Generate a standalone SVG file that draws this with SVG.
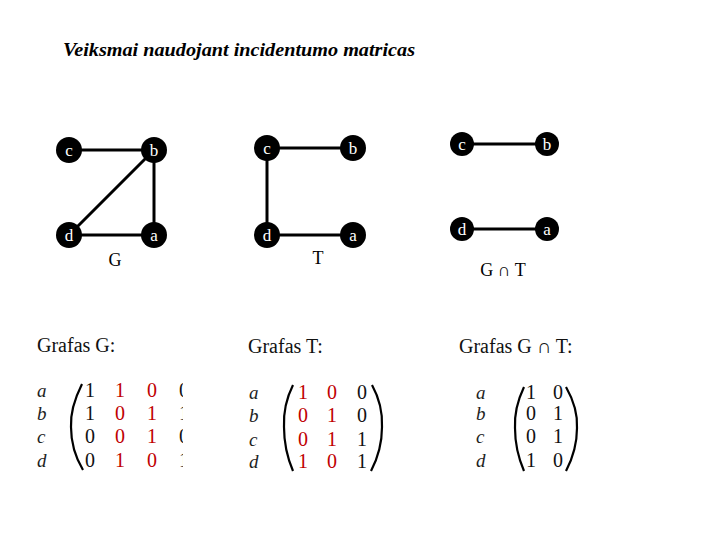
<svg xmlns="http://www.w3.org/2000/svg" width="720" height="540" viewBox="0 0 720 540">
<style>
.title{font-family:"Liberation Serif",serif;font-weight:bold;font-style:italic;font-size:18px;fill:#000}
.node circle{fill:#000}
.node text{font-family:"Liberation Serif",serif;font-size:17px;fill:#fff;text-anchor:middle}
.edge{stroke:#000;stroke-width:3;fill:none}
.glabel{font-family:"Liberation Serif",serif;font-size:18px;fill:#000;text-anchor:middle}
.head{font-family:"Liberation Serif",serif;font-size:20px;fill:#111}
.row{font-family:"Liberation Serif",serif;font-style:italic;font-size:19px;fill:#222}
.num{font-family:"Liberation Serif",serif;font-size:20px;text-anchor:middle;fill:#111}
.red{fill:#c00000}
.paren{fill:none;stroke:#000;stroke-width:2.2}
</style>
<defs>
<clipPath id="clipG"><rect x="0" y="370" width="183" height="110"/></clipPath>
</defs>
<text class="title" x="63" y="56" textLength="352" lengthAdjust="spacingAndGlyphs">Veiksmai naudojant incidentumo matricas</text>

<g id="connectors">
<line class="edge" x1="69" y1="150" x2="154" y2="150"/>
<line class="edge" x1="154" y1="150" x2="154" y2="235"/>
<line class="edge" x1="154" y1="150" x2="69" y2="235"/>
<line class="edge" x1="69" y1="235" x2="154" y2="235"/>
<line class="edge" x1="267" y1="148" x2="353" y2="148"/>
<line class="edge" x1="267" y1="148" x2="267" y2="235"/>
<line class="edge" x1="267" y1="235" x2="353" y2="235"/>
<line class="edge" x1="462" y1="144" x2="547" y2="144"/>
<line class="edge" x1="462" y1="229" x2="547" y2="229"/>
</g>

<g id="G-c" class="node"><circle cx="69" cy="150" r="13"/><text x="69" y="156">c</text></g>
<g id="G-b" class="node"><circle cx="154" cy="150" r="13"/><text x="154" y="156">b</text></g>
<g id="G-d" class="node"><circle cx="69" cy="235" r="13"/><text x="69" y="241">d</text></g>
<g id="G-a" class="node"><circle cx="154" cy="235" r="13"/><text x="154" y="241">a</text></g>
<text class="glabel" x="115" y="266">G</text>

<g id="T-c" class="node"><circle cx="267" cy="148" r="13"/><text x="267" y="154">c</text></g>
<g id="T-b" class="node"><circle cx="353" cy="148" r="13"/><text x="353" y="154">b</text></g>
<g id="T-d" class="node"><circle cx="267" cy="235" r="13"/><text x="267" y="241">d</text></g>
<g id="T-a" class="node"><circle cx="353" cy="235" r="13"/><text x="353" y="241">a</text></g>
<text class="glabel" x="318" y="264">T</text>

<g id="GT-c" class="node"><circle cx="462" cy="144" r="12"/><text x="462" y="150">c</text></g>
<g id="GT-b" class="node"><circle cx="547" cy="144" r="12"/><text x="547" y="150">b</text></g>
<g id="GT-d" class="node"><circle cx="462" cy="229" r="12"/><text x="462" y="235">d</text></g>
<g id="GT-a" class="node"><circle cx="547" cy="229" r="12"/><text x="547" y="235">a</text></g>
<text class="glabel" x="503" y="276">G ∩ T</text>

<!-- Matrix G -->
<g id="matrixG">
<text class="head" x="37" y="352">Grafas G:</text>
<text class="row" x="37" y="397">a</text>
<text class="row" x="37" y="420">b</text>
<text class="row" x="37" y="443">c</text>
<text class="row" x="37" y="467">d</text>
<path class="paren" d="M82,384 Q70,408 71,427 Q71,450 83,470"/>
<g clip-path="url(#clipG)">
<text class="num" x="90" y="397">1</text><text class="num red" x="120" y="397">1</text><text class="num red" x="152" y="397">0</text><text class="num" x="184" y="397">0</text>
<text class="num" x="90" y="420">1</text><text class="num red" x="120" y="420">0</text><text class="num red" x="152" y="420">1</text><text class="num" x="184" y="420">1</text>
<text class="num" x="90" y="443">0</text><text class="num red" x="120" y="443">0</text><text class="num red" x="152" y="443">1</text><text class="num" x="184" y="443">0</text>
<text class="num" x="90" y="467">0</text><text class="num red" x="120" y="467">1</text><text class="num red" x="152" y="467">0</text><text class="num" x="184" y="467">1</text>
</g>
</g>

<!-- Matrix T -->
<g id="matrixT">
<text class="head" x="248" y="353">Grafas T:</text>
<text class="row" x="249" y="399">a</text>
<text class="row" x="249" y="422">b</text>
<text class="row" x="249" y="446">c</text>
<text class="row" x="249" y="468">d</text>
<path class="paren" d="M293,385 Q283,405 284,427 Q284,450 293,471"/>
<path class="paren" d="M372,385 Q383,405 382,427 Q382,450 371,471"/>
<text class="num red" x="303" y="399">1</text><text class="num red" x="332" y="399">0</text><text class="num" x="362" y="399">0</text>
<text class="num red" x="303" y="422">0</text><text class="num red" x="332" y="422">1</text><text class="num" x="362" y="422">0</text>
<text class="num red" x="303" y="446">0</text><text class="num red" x="332" y="446">1</text><text class="num" x="362" y="446">1</text>
<text class="num red" x="303" y="468">1</text><text class="num red" x="332" y="468">0</text><text class="num" x="362" y="468">1</text>
</g>

<!-- Matrix G∩T -->
<g id="matrixGT">
<text class="head" x="459" y="353">Grafas G ∩ T:</text>
<text class="row" x="476" y="399">a</text>
<text class="row" x="476" y="420">b</text>
<text class="row" x="476" y="443">c</text>
<text class="row" x="476" y="467">d</text>
<path class="paren" d="M524,387 Q514,408 515,428 Q515,450 524,471"/>
<path class="paren" d="M566,387 Q578,408 577,428 Q577,450 566,471"/>
<text class="num" x="531" y="399">1</text><text class="num" x="558" y="399">0</text>
<text class="num" x="531" y="420">0</text><text class="num" x="558" y="420">1</text>
<text class="num" x="531" y="443">0</text><text class="num" x="558" y="443">1</text>
<text class="num" x="531" y="467">1</text><text class="num" x="558" y="467">0</text>
</g>
</svg>
